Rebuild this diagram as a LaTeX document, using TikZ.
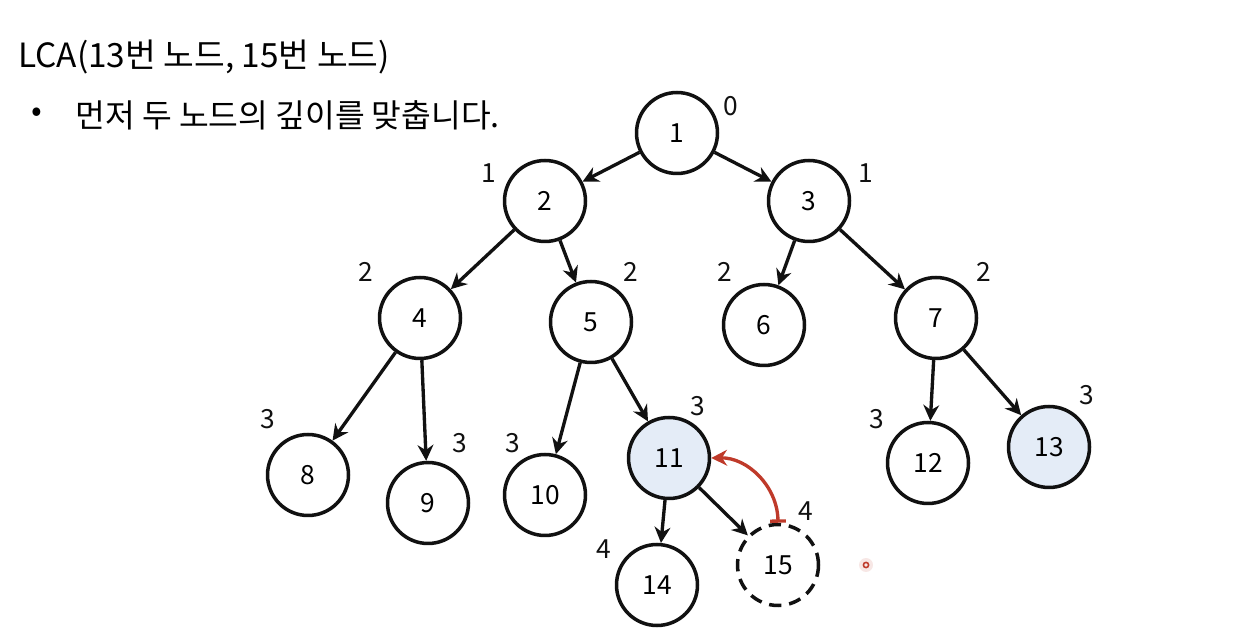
\documentclass[tikz,border=0pt]{standalone}
\usepackage{fontspec}
\setmainfont{Noto Sans CJK KR}
\usepackage{xcolor}
\usepackage{tikz}
\usetikzlibrary{arrows.meta}
\definecolor{lcaink}{HTML}{111111}
\definecolor{lcahi}{HTML}{E4ECF7}
\definecolor{lcared}{HTML}{BF3A2A}

\begin{document}
\begin{tikzpicture}[x=0.02cm,y=-0.02cm,
    vtx/.style={circle, draw=lcaink, line width=2pt, minimum size=1.62cm, inner sep=0pt, font=\fontsize{15}{17}\selectfont},
    hivtx/.style={vtx, fill=lcahi},
    ghostvtx/.style={vtx, dash pattern=on 7pt off 4.5pt},
    depth/.style={font=\fontsize{15}{17}\selectfont, text=lcaink},
    edge/.style={line width=1.9pt, draw=lcaink, -{Stealth[length=9pt,width=9pt]}},
    lift/.style={line width=1.9pt, draw=lcared, {Bar[width=9pt]}-{Stealth[length=9pt,width=9pt]}}]
  \useasboundingbox (0,0) rectangle (1254,644);

  \node[anchor=west, inner sep=0pt, font=\fontsize{19}{23}\selectfont] (title) at (18,57) {LCA(13번 노드, 15번 노드)};
  \node[font=\fontsize{18}{21}\selectfont] (dot) at (37,115) {•};
  \node[anchor=west, inner sep=0pt, font=\fontsize{18.4}{22}\selectfont] (step1) at (75,115) {먼저 두 노드의 깊이를 맞춥니다.};

  % tree nodes
  \foreach \n/\x/\y in {1/677/133, 2/545/201, 3/809/201, 4/420/318, 5/591/322, 6/764/325,
                        7/936/318, 8/308/475, 9/428/503, 10/545/495, 12/928/463, 14/657/585}
    \node[vtx] (n\n) at (\x,\y) {\n};
  \node[hivtx] (n11) at (669,458) {11};
  \node[hivtx] (n13) at (1049,447) {13};
  \node[ghostvtx] (n15) at (778,565) {15};

  % depths
  \foreach \n/\d/\x/\y in {1/0/731/106, 2/1/489/173, 3/1/866/173, 4/2/366/272, 5/2/631/272,
                           6/2/725/272, 7/2/984/272, 8/3/268/419, 9/3/460/443, 10/3/513/443,
                           11/3/698/406, 12/3/877/419, 13/3/1087/395, 14/4/604/549, 15/4/806/511}
    \node[depth] (d\n) at (\x,\y) {\d};

  \foreach \a/\b in {1/2, 1/3, 2/4, 2/5, 3/6, 3/7, 4/8, 4/9, 5/10, 5/11, 7/12, 7/13, 11/14, 11/15}
    \draw[edge] (n\a) -- (n\b);

  \draw[lift] (n15.north) to[bend right=45] (n11.east);

  % pointer
  \fill[lcared!12] (866,565) circle (7);
  \draw[lcared, line width=0.9pt] (866,565) circle (2.6);
\end{tikzpicture}
\end{document}
